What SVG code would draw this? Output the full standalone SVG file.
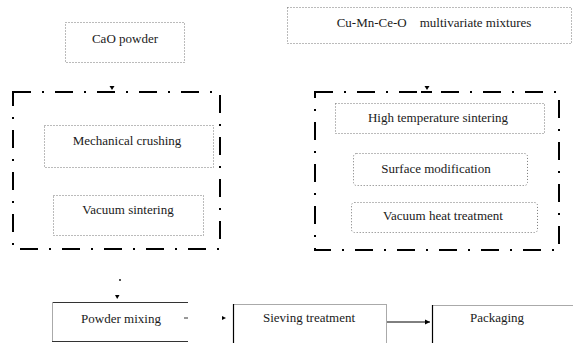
<svg xmlns="http://www.w3.org/2000/svg" width="573" height="343" viewBox="0 0 573 343">
<style>
.t{font-family:"Times New Roman",Times,"Liberation Serif","DejaVu Serif","Noto Serif",serif;font-size:13px;fill:#1a1a1a;text-anchor:middle;dominant-baseline:central}
.dot{fill:none;stroke:#777;stroke-width:1;stroke-dasharray:1 2}
.dd{fill:none;stroke:#000;stroke-width:2;stroke-dasharray:18 11 2 11}
.lt{stroke:#aaa;stroke-width:1;fill:none}
.dk{stroke:#333;stroke-width:1;fill:none}
.blk{stroke:#000;stroke-width:1.2;fill:none}
</style>
<defs>
<marker id="ah" markerWidth="6" markerHeight="6" refX="5" refY="3" orient="auto" markerUnits="userSpaceOnUse">
<path d="M0,0.5 L5,3 L0,5.5 Z" fill="#000"/>
</marker>
</defs>
<rect width="573" height="343" fill="#fff"/>
<g id="cao">
<rect class="dot" x="65.5" y="22.5" width="119" height="40"/>
<text class="t" x="125" y="38">CaO powder</text>
</g>
<g id="cumnceo">
<rect class="dot" x="287.5" y="7.5" width="284" height="36"/>
<text class="t" x="434" y="22" xml:space="preserve">Cu-Mn-Ce-O    multivariate mixtures</text>
</g>
<g id="leftgroup">
<rect class="dd" x="13" y="92" width="207" height="157"/>
</g>
<g id="mech">
<rect class="dot" x="44.5" y="125.5" width="169" height="42"/>
<text class="t" x="127" y="140">Mechanical crushing</text>
</g>
<g id="vacsint">
<rect class="dot" x="53.5" y="195.5" width="150" height="40"/>
<text class="t" x="128" y="209">Vacuum sintering</text>
</g>
<g id="rightgroup">
<rect class="dd" x="315" y="92" width="244" height="158"/>
</g>
<g id="hightemp">
<rect class="dot" x="335.5" y="103.5" width="209" height="30"/>
<text class="t" x="438" y="117">High temperature sintering</text>
</g>
<g id="surface">
<rect class="dot" x="353.5" y="153.5" width="174" height="32" rx="3"/>
<text class="t" x="436" y="168">Surface modification</text>
</g>
<g id="vacheat">
<rect class="dot" x="351.5" y="202.5" width="186" height="30" rx="3"/>
<text class="t" x="443" y="215">Vacuum heat treatment</text>
</g>
<g id="powdermix">
<line class="dk" x1="52" y1="302.5" x2="188" y2="302.5"/>
<line class="lt" x1="52.5" y1="302" x2="52.5" y2="341"/>
<line class="dk" x1="52" y1="341.5" x2="188" y2="341.5"/>
<text class="t" x="121" y="318">Powder mixing</text>
</g>
<g id="sieving">
<line class="lt" x1="233" y1="304.5" x2="386" y2="304.5"/>
<line class="lt" x1="386.5" y1="304" x2="386.5" y2="343"/>
<line class="blk" x1="233.5" y1="304" x2="233.5" y2="343"/>
<text class="t" x="309" y="317">Sieving treatment</text>
</g>
<g id="packaging">
<line class="lt" x1="432" y1="305.5" x2="573" y2="305.5"/>
<line class="blk" x1="432.5" y1="305" x2="432.5" y2="343"/>
<text class="t" x="497" y="317">Packaging</text>
</g>
<g id="connectors">
<path d="M109.5,86 L114.5,86 L112,90 Z" fill="#000"/>
<path d="M424.5,86 L429.5,86 L427,90 Z" fill="#000"/>
<line x1="421" y1="92" x2="432" y2="92" stroke="#000" stroke-width="2"/>
<circle cx="120" cy="280" r="0.9" fill="#000"/>
<path d="M115,295 L119.5,295 L117.2,299 Z" fill="#000"/>
<line x1="184" y1="318" x2="188" y2="318" stroke="#333" stroke-width="1"/>
<path d="M222,316 L226,318 L222,320 Z" fill="#000"/>
<line x1="387" y1="322" x2="430" y2="322" stroke="#000" stroke-width="1" marker-end="url(#ah)"/>
</g>
</svg>
